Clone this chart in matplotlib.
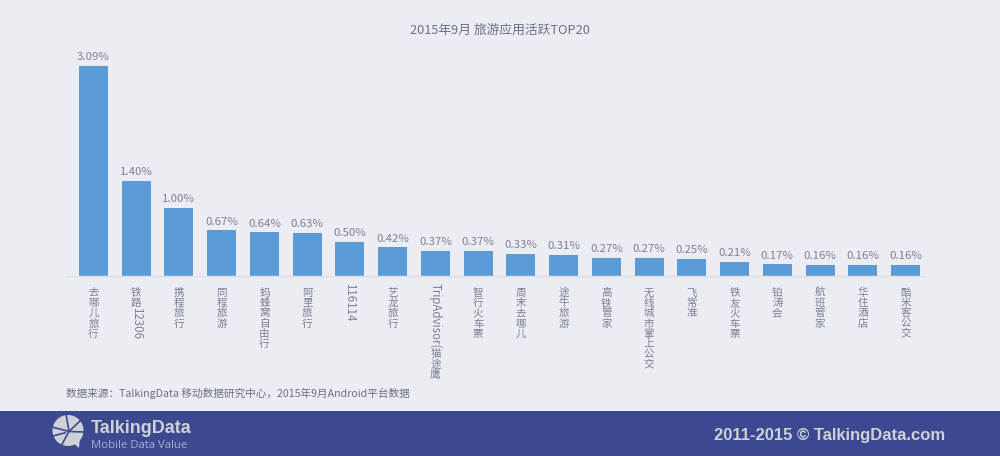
import unicodedata
import matplotlib
matplotlib.use("Agg")
import matplotlib.pyplot as plt
from matplotlib.patches import Rectangle, Circle, Polygon

plt.rcParams['font.family'] = ['Noto Sans CJK SC', 'DejaVu Sans']

title = "2015年9月 旅游应用活跃TOP20"
source = "数据来源：TalkingData 移动数据研究中心，2015年9月Android平台数据"
categories = ["去哪儿旅行", "铁路12306", "携程旅行", "同程旅游", "蚂蜂窝自由行", "阿里旅行", "116114",
              "艺龙旅行", "TripAdvisor(猫途鹰", "智行火车票", "周末去哪儿", "途牛旅游", "高铁管家",
              "无线城市掌上公交", "飞常准", "铁友火车票", "铂涛会", "航班管家", "华住酒店", "酷米客公交"]
values = [3.09, 1.40, 1.00, 0.67, 0.64, 0.63, 0.50, 0.42, 0.37, 0.37,
          0.33, 0.31, 0.27, 0.27, 0.25, 0.21, 0.17, 0.16, 0.16, 0.16]
value_labels = ["3.09%", "1.40%", "1.00%", "0.67%", "0.64%", "0.63%", "0.50%", "0.42%", "0.37%", "0.37%",
                "0.33%", "0.31%", "0.27%", "0.27%", "0.25%", "0.21%", "0.17%", "0.16%", "0.16%", "0.16%"]

BG = "#ECEDF2"; BAR = "#5B9BD7"; TXT = "#7C8096"; FOOT = "#3B4991"; LOGO = "#CFD1D6"
W, H = 1000, 456
fig = plt.figure(figsize=(W/100, (H+0.2)/100), dpi=100, facecolor=BG)

# main axes: x spans px 66-925, baseline near y=276, top at y=45
ax = fig.add_axes([66/W, 1-276/H, 859/W, 231/H])
ax.patch.set_alpha(0)
step = 42.74
x0 = (93.5-66)/step
ax.set_xlim(-x0, 859/step - x0)
ax.set_ylim(0, 231/67.9)
xs = list(range(len(values)))
ax.bar(xs, values, width=29/step, color=BAR, zorder=2)
for s in ('top', 'left', 'right'):
    ax.spines[s].set_visible(False)
ax.spines['bottom'].set_color("#DDDEE5")
ax.spines['bottom'].set_linewidth(1)
ax.set_yticks([])
ax.set_xticks([])
for x, v, lab in zip(xs, values, value_labels):
    ax.annotate(lab, (x, v), xytext=(0, 4), textcoords='offset pixels', ha='center', va='bottom',
                fontsize=8.2, color=TXT)

def is_wide(c):
    return unicodedata.east_asian_width(c) in ('W', 'F')

# category labels: CJK stacked upright, Latin/digit runs rotated
fig.canvas.draw()
rend = fig.canvas.get_renderer()
for x, cat in zip(xs, categories):
    y = -10.5
    i = 0
    while i < len(cat):
        if is_wide(cat[i]):
            ax.annotate(cat[i], (x, 0), xytext=(0, y - 9.0), textcoords='offset pixels', ha='center', va='baseline',
                        fontsize=7.6, color=TXT)
            y -= 10.3
            i += 1
        else:
            j = i
            while j < len(cat) and not is_wide(cat[j]):
                j += 1
            t = ax.annotate(cat[i:j], (x, 0), xytext=(0, y + (0 if i else 3.5)), textcoords='offset pixels',
                            ha='center', va='top', rotation=-90, fontsize=8.3, color=TXT)
            y -= t.get_window_extent(rend).height + (0 if i else -3.5)
            i = j

fig.text(500/W, 1-30/H, title, ha='center', va='center', fontsize=9.2, color="#6A6F86")
fig.text(66/W, 1-393.5/H, source, ha='left', va='center', fontsize=7.65, color="#6A6F86")

# footer overlay in pixel coordinates
ov = fig.add_axes([0, 0, 1, 1], zorder=5)
ov.set_xlim(0, W); ov.set_ylim(H, 0); ov.axis('off')
ov.add_patch(Rectangle((0, 411), W, 45, color=FOOT, lw=0))
cx, cy = 68, 430.5
ov.add_patch(Circle((cx, cy), 15.5, color=LOGO, lw=0))
ov.add_patch(Polygon([(70, 440), (80, 436), (79, 448)], color=LOGO, lw=0))
for (a, b) in [((cx+1, cy+1), (cx-2, 414)), ((cx+1, cy+1), (cx+13, 420)), ((cx+1, cy+1), (cx+16, 432)),
               ((cx+1, cy+1), (cx-16, 427)), ((cx-2, cy+2), (cx-15, 436)), ((cx+1, cy+1), (cx-7, 446))]:
    ov.plot([a[0], b[0]], [a[1], b[1]], color=FOOT, lw=1.2, solid_capstyle='butt')
ov.text(91, 428, "TalkingData", family=['Liberation Sans', 'DejaVu Sans'], fontweight='bold', fontsize=13,
        color=LOGO, ha='left', va='center')
ov.text(91, 445, "Mobile Data Value", family=['Open Sans', 'DejaVu Sans'], fontsize=8.2, color="#A9AECB",
        ha='left', va='center')
ov.text(714, 435, "2011-2015 © TalkingData.com", family=['Liberation Sans', 'DejaVu Sans'], fontweight='bold',
        fontsize=12.0, color=LOGO, ha='left', va='center')

fig.savefig("out.png", dpi=100, facecolor=BG)
